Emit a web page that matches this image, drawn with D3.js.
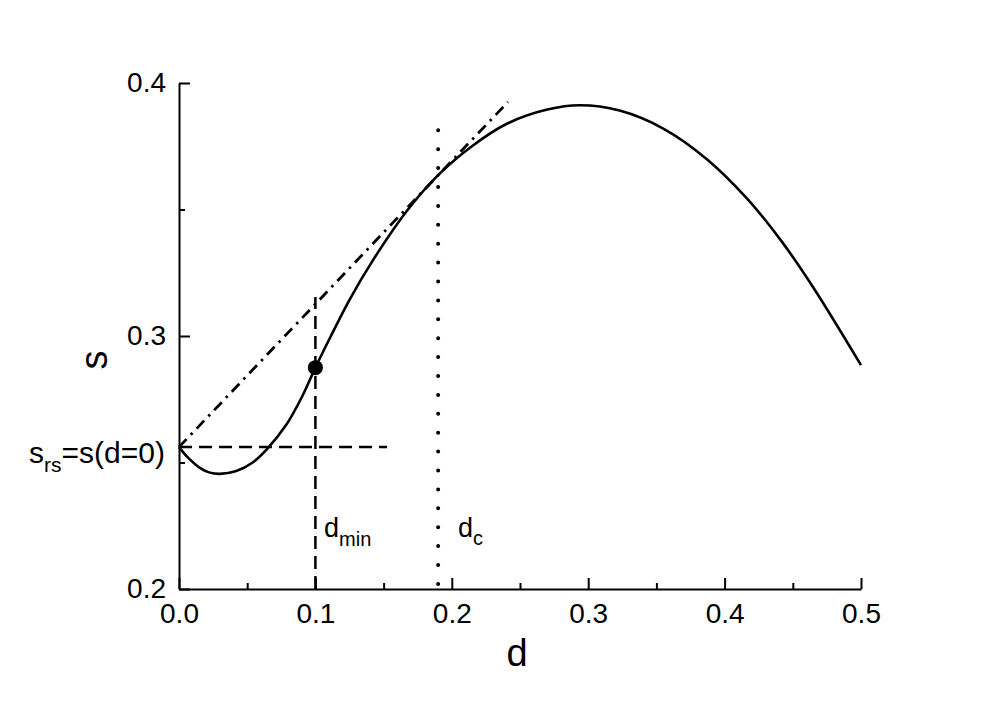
<!DOCTYPE html>
<html>
<head>
<meta charset="utf-8">
<script src="https://cdn.jsdelivr.net/npm/d3@7"></script>
<style>
  html, body { margin: 0; padding: 0; background: #fff; }
  svg { display: block; font-family: "Liberation Sans", Arial, sans-serif; }
</style>
</head>
<body>
<svg id="chart" width="1000" height="707"></svg>
<script>
// ---- data ----
const dValues = [0, 0.007, 0.015, 0.022, 0.03, 0.042, 0.054, 0.0645, 0.079, 0.09, 0.1, 0.111, 0.125, 0.142, 0.167, 0.19, 0.215, 0.24, 0.27, 0.294, 0.323, 0.355, 0.387, 0.416, 0.441, 0.465, 0.5];
const sValues = [0.2561, 0.2517, 0.2480, 0.2461, 0.2455, 0.2466, 0.2500, 0.2553, 0.2652, 0.2758, 0.2875, 0.2996, 0.3143, 0.3298, 0.3494, 0.3636, 0.3751, 0.3838, 0.3895, 0.3912, 0.3891, 0.3820, 0.3699, 0.3546, 0.3380, 0.3192, 0.2885];
const xMajorTicks = [0, 0.1, 0.2, 0.3, 0.4, 0.5];
const xMinorTicks = [0.05, 0.15, 0.25, 0.35, 0.45];
const yMajorTicks = [0.2, 0.3, 0.4];
const yMinorTicks = [0.25, 0.35];
const tangentLine = [[0, 0.2561], [0.2412, 0.3925]];
const srsLine = [[0, 0.2561], [0.1525, 0.2561]];
const dminLine = [[0.1, 0.2], [0.1, 0.3154]];
const dcLine = [[0.19, 0.3813], [0.19, 0.2]];
const dminPoint = [0.1, 0.2875];

// ---- layout ----
const svg = d3.select("#chart");
const x = d3.scaleLinear().domain([0, 0.5]).range([179, 861]);
const y = d3.scaleLinear().domain([0.2, 0.4]).range([589, 83]);

const line = d3.line().x(p => x(p[0])).y(p => y(p[1]));

// axes
const xAxis = svg.append("g").attr("transform", `translate(0,${y(0.2)})`)
  .call(d3.axisBottom(x).tickValues(xMajorTicks).tickFormat(d3.format(".1f"))
    .tickSizeInner(-11).tickSizeOuter(0).tickPadding(14));
const xMinor = svg.append("g").attr("transform", `translate(0,${y(0.2)})`)
  .call(d3.axisBottom(x).tickValues(xMinorTicks).tickFormat("")
    .tickSizeInner(-6).tickSizeOuter(0));
const yAxis = svg.append("g").attr("transform", `translate(${x(0)},0)`)
  .call(d3.axisLeft(y).tickValues(yMajorTicks).tickFormat(d3.format(".1f"))
    .tickSizeInner(-11).tickSizeOuter(0).tickPadding(13));
const yMinor = svg.append("g").attr("transform", `translate(${x(0)},0)`)
  .call(d3.axisLeft(y).tickValues(yMinorTicks).tickFormat("")
    .tickSizeInner(-6).tickSizeOuter(0));

[xAxis, xMinor, yAxis, yMinor].forEach(g => {
  g.select(".domain").attr("stroke", "#000").attr("stroke-width", 2);
  g.selectAll(".tick line").attr("stroke", "#000").attr("stroke-width", 2);
  g.selectAll(".tick text").attr("fill", "#000")
    .style("font-size", "28px").style("font-family", "Liberation Sans, Arial, sans-serif");
});
xMinor.select(".domain").remove();
yMinor.select(".domain").remove();

// reference lines
svg.append("path").datum(srsLine).attr("d", line)
  .attr("fill", "none").attr("stroke", "#000").attr("stroke-width", 2.5)
  .attr("stroke-dasharray", "13 7");
svg.append("path").datum(dminLine).attr("d", line)
  .attr("fill", "none").attr("stroke", "#000").attr("stroke-width", 2.5)
  .attr("stroke-dasharray", "13 7");
svg.append("path").datum(dcLine).attr("d", line)
  .attr("fill", "none").attr("stroke", "#000").attr("stroke-width", 4)
  .attr("stroke-linecap", "round").attr("stroke-dasharray", "0 18.9");
svg.append("path").datum(tangentLine).attr("d", line)
  .attr("fill", "none").attr("stroke", "#000").attr("stroke-width", 2.8)
  .attr("stroke-dasharray", "11 6 2.5 6");

// curve
const curveData = dValues.map((d, i) => [d, sValues[i]]);
svg.append("path").datum(curveData)
  .attr("d", d3.line().x(p => x(p[0])).y(p => y(p[1])).curve(d3.curveCatmullRom.alpha(0.5)))
  .attr("fill", "none").attr("stroke", "#000").attr("stroke-width", 2.6);

// point
svg.append("circle").attr("cx", x(dminPoint[0])).attr("cy", y(dminPoint[1]))
  .attr("r", 7.5).attr("fill", "#000");

// axis titles
svg.append("text").attr("x", 517).attr("y", 666).attr("text-anchor", "middle")
  .style("font-size", "38px").text("d");
svg.append("text").attr("transform", "translate(107,360) rotate(-90)")
  .attr("text-anchor", "middle").style("font-size", "38px").text("s");

// annotations
const t1 = svg.append("text").attr("x", 29).attr("y", 463).style("font-size", "30px");
t1.append("tspan").text("s");
t1.append("tspan").attr("dy", 9).style("font-size", "21px").text("rs");
t1.append("tspan").attr("dy", -9).text("=s(d=0)");

const t2 = svg.append("text").attr("x", 324).attr("y", 537).style("font-size", "27px");
t2.append("tspan").text("d");
t2.append("tspan").attr("dy", 9).style("font-size", "20px").text("min");

const t3 = svg.append("text").attr("x", 458).attr("y", 537).style("font-size", "27px");
t3.append("tspan").text("d");
t3.append("tspan").attr("dy", 8).style("font-size", "20px").text("c");
</script>
</body>
</html>
